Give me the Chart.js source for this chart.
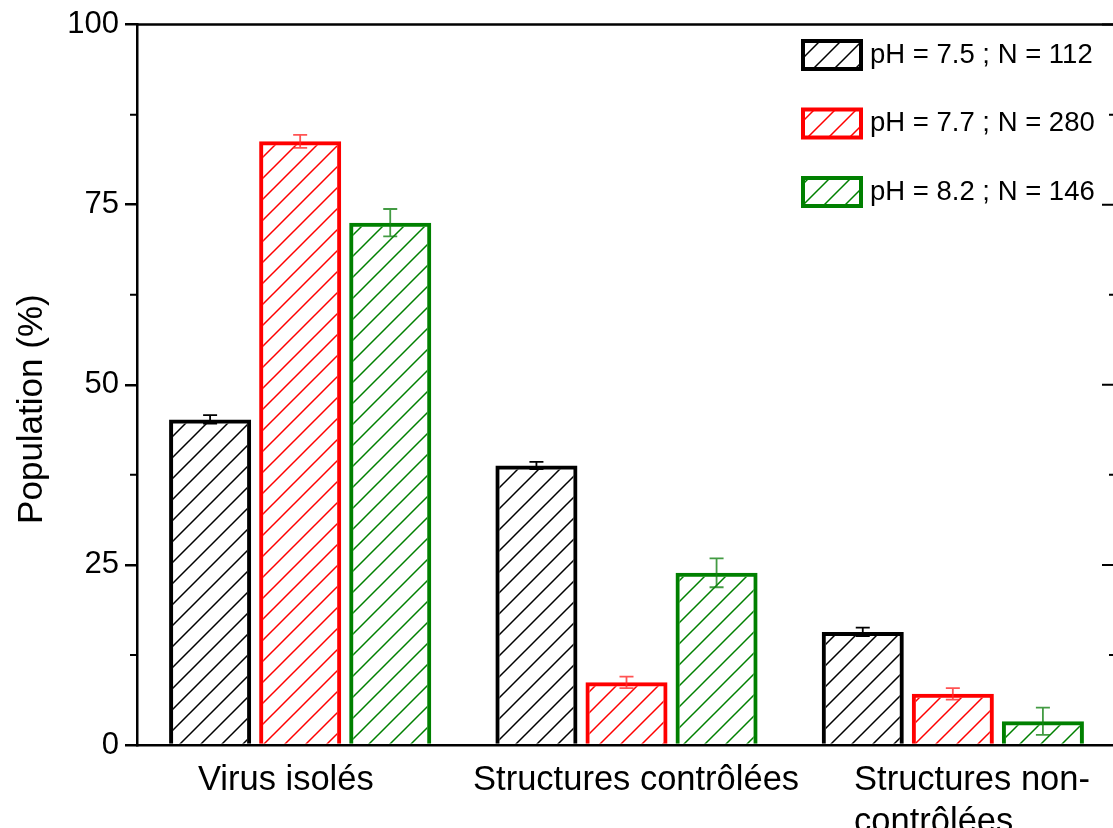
<!DOCTYPE html>
<html>
<head>
<meta charset="utf-8">
<script src="https://cdn.jsdelivr.net/npm/chart.js@4/dist/chart.umd.min.js"></script>
<style>
  html, body { margin: 0; padding: 0; background: #fff; overflow: hidden; }
  #wrap { width: 1120px; height: 828px; }
</style>
</head>
<body>
<div id="wrap"><canvas id="chart" width="1120" height="828"></canvas></div>
<script>
// spaces nudge the labels the way the original placed them
const categories = ["Virus isolés   ", "  Structures contrôlées", ["    Structures non-", "contrôlées    "]];
const seriesLabels = ["pH = 7.5 ; N = 112", "pH = 7.7 ; N = 280", "pH = 8.2 ; N = 146"];
const ph75 = [45.2, 38.8, 15.7];
const ph77 = [83.8, 8.7, 7.1];
const ph82 = [72.5, 23.9, 3.3];
const ph75Err = [0.6, 0.5, 0.6];
const ph77Err = [0.9, 0.8, 0.8];
const ph82Err = [1.9, 2.0, 1.9];
const yTicks = [0, 25, 50, 75, 100];

const FONT = "Arial, 'Liberation Sans', sans-serif";

// diagonal hatch fill, same colour as the bar outline
function hatch(color) {
  const s = 21;
  const c = document.createElement("canvas");
  c.width = s;
  c.height = s;
  const g = c.getContext("2d");
  g.strokeStyle = color;
  g.lineWidth = 1.5;
  g.beginPath();
  g.moveTo(0, s);
  g.lineTo(s, 0);
  g.moveTo(-2, 2);
  g.lineTo(2, -2);
  g.moveTo(s - 2, s + 2);
  g.lineTo(s + 2, s - 2);
  g.stroke();
  return g.createPattern(c, "repeat");
}

const errColors = ["#000000", "rgba(255,40,40,0.8)", "rgba(20,130,20,0.8)"];

// error bars, drawn through the y scale
const errorBars = {
  id: "errorBars",
  afterDatasetsDraw(chart) {
    const ctx = chart.ctx;
    const y = chart.scales.y;
    chart.data.datasets.forEach((ds, i) => {
      const meta = chart.getDatasetMeta(i);
      meta.data.forEach((bar, j) => {
        const v = ds.data[j];
        const e = ds.errors[j];
        const top = y.getPixelForValue(v + e);
        const bot = y.getPixelForValue(v - e);
        ctx.save();
        ctx.strokeStyle = errColors[i];
        ctx.lineWidth = 1.8;
        ctx.beginPath();
        ctx.moveTo(bar.x, top);
        ctx.lineTo(bar.x, bot);
        ctx.moveTo(bar.x - 7, top);
        ctx.lineTo(bar.x + 7, top);
        ctx.moveTo(bar.x - 7, bot);
        ctx.lineTo(bar.x + 7, bot);
        ctx.stroke();
        ctx.restore();
      });
    });
  },
};

// top axis line, right axis ticks, minor ticks on the left
const frame = {
  id: "frame",
  afterDraw(chart) {
    const ctx = chart.ctx;
    const a = chart.chartArea;
    const y = chart.scales.y;
    ctx.save();
    ctx.strokeStyle = "#000";
    ctx.lineWidth = 2.5;
    ctx.beginPath();
    ctx.moveTo(a.left - 1, a.top);
    ctx.lineTo(a.right, a.top);
    ctx.moveTo(a.right, a.top);
    ctx.lineTo(a.right, a.bottom);
    ctx.stroke();
    ctx.lineWidth = 2;
    ctx.beginPath();
    for (let v = 0; v <= 100; v += 12.5) {
      const py = y.getPixelForValue(v);
      const major = v % 25 === 0;
      ctx.moveTo(a.right, py);
      ctx.lineTo(a.right - (major ? 14 : 7), py);
      if (!major) {
        ctx.moveTo(a.left, py);
        ctx.lineTo(a.left - 7, py);
      }
    }
    ctx.stroke();
    ctx.restore();
  },
};

// legend boxes in the top right corner
const legendBoxes = {
  id: "legendBoxes",
  afterDraw(chart) {
    const ctx = chart.ctx;
    ctx.save();
    chart.data.datasets.forEach((ds, i) => {
      const x = 803;
      const yc = 55 + i * 68.5;
      ctx.fillStyle = "#fff";
      ctx.fillRect(x, yc - 14, 58, 28);
      ctx.fillStyle = ds.backgroundColor;
      ctx.fillRect(x, yc - 14, 58, 28);
      ctx.strokeStyle = ds.borderColor;
      ctx.lineWidth = 4;
      ctx.strokeRect(x, yc - 14, 58, 28);
      ctx.fillStyle = "#000";
      ctx.font = "27.5px " + FONT;
      ctx.textAlign = "left";
      ctx.textBaseline = "middle";
      ctx.fillText(ds.label, 870, yc);
    });
    ctx.restore();
  },
};

function makeSet(label, data, errors, color) {
  return {
    label,
    data,
    errors,
    backgroundColor: hatch(color),
    borderColor: color,
    borderWidth: 4,
    borderSkipped: "start",
    categoryPercentage: 0.828,
    barPercentage: 0.911,
  };
}

new Chart(document.getElementById("chart"), {
  type: "bar",
  data: {
    labels: categories,
    datasets: [
      makeSet(seriesLabels[0], ph75, ph75Err, "#000000"),
      makeSet(seriesLabels[1], ph77, ph77Err, "#ff0000"),
      makeSet(seriesLabels[2], ph82, ph82Err, "#008000"),
    ],
  },
  options: {
    responsive: false,
    animation: false,
    layout: { padding: { top: 24, right: 4, left: 0, bottom: 0 } },
    plugins: { legend: { display: false }, tooltip: { enabled: false } },
    scales: {
      x: {
        grid: { display: false },
        border: { display: true, color: "#000", width: 2.5 },
        ticks: {
          color: "#000",
          font: { family: FONT, size: 34.5, lineHeight: 1.2 },
          padding: 7,
          maxRotation: 0,
          autoSkip: false,
        },
        afterFit(scale) { scale.height = 83; },
      },
      y: {
        min: 0,
        max: 100,
        afterBuildTicks(scale) { scale.ticks = yTicks.map((v) => ({ value: v })); },
        grid: { drawOnChartArea: false, drawTicks: true, tickLength: 12, color: "#000", lineWidth: 2.5 },
        border: { display: true, color: "#000", width: 2.5 },
        ticks: { color: "#000", font: { family: FONT, size: 31 }, padding: 6 },
        title: {
          display: true,
          text: "Population (%)     ",
          color: "#000",
          font: { family: FONT, size: 35 },
          padding: { top: 11, bottom: 0 },
        },
        afterFit(scale) { scale.width = 137; },
      },
    },
  },
  plugins: [errorBars, frame, legendBoxes],
});
</script>
</body>
</html>
